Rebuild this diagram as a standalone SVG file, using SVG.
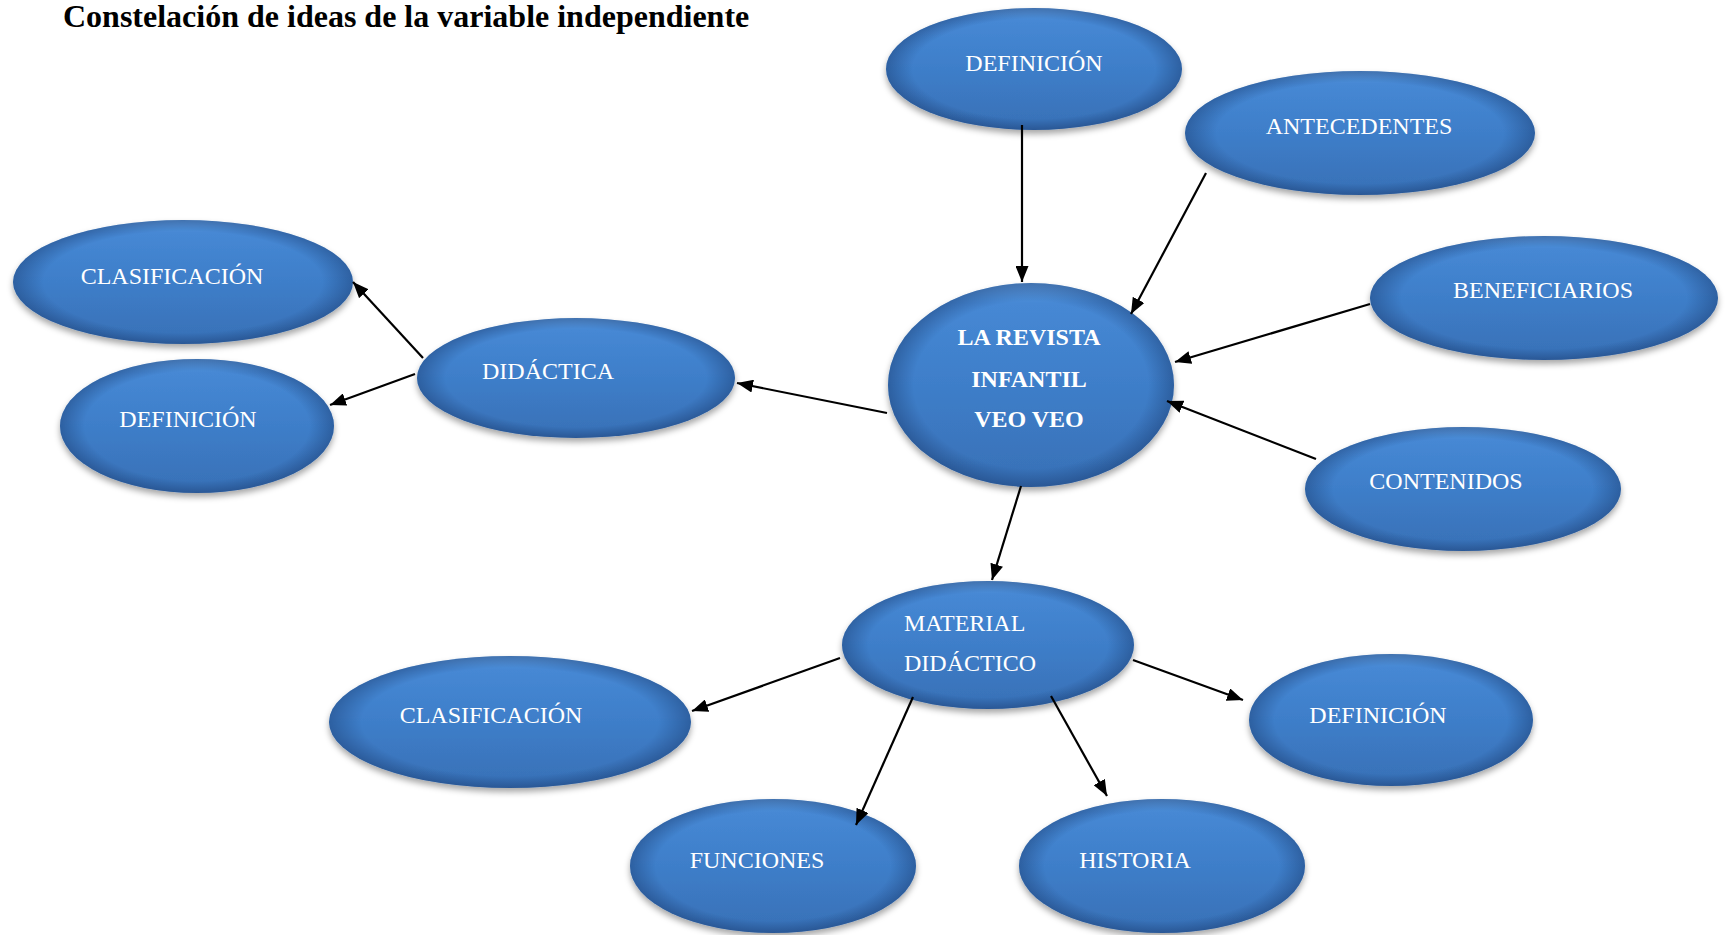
<svg xmlns="http://www.w3.org/2000/svg" width="1725" height="935" viewBox="0 0 1725 935">
<defs>
<linearGradient id="g" x1="0" y1="0" x2="0" y2="1">
<stop offset="0" stop-color="#5f9ce0"/>
<stop offset="0.1" stop-color="#4688d4"/>
<stop offset="0.5" stop-color="#3e7ec9"/>
<stop offset="1" stop-color="#3870b6"/>
</linearGradient>
<radialGradient id="edge" cx="0.5" cy="0.5" r="0.5">
<stop offset="0.82" stop-color="#143264" stop-opacity="0"/>
<stop offset="1" stop-color="#143264" stop-opacity="0.4"/>
</radialGradient>
<filter id="sh" x="-10%" y="-10%" width="120%" height="130%">
<feDropShadow dx="0" dy="4" stdDeviation="3" flood-color="#000" flood-opacity="0.35"/>
</filter>
<marker id="ah" viewBox="0 0 16 13" refX="16" refY="6.5" markerWidth="16" markerHeight="13" markerUnits="userSpaceOnUse" orient="auto">
<path d="M0,0 L16,6.5 L0,13 z" fill="#000"/>
</marker>
<style>
.n{fill:url(#g);filter:url(#sh)}
.e{fill:url(#edge)}
.t{font-family:"Liberation Serif","Times New Roman",serif;font-size:24px;fill:#fff;text-anchor:middle}
.b{font-weight:bold}
.s{text-anchor:start}
.c line{stroke:#000;stroke-width:2.2;marker-end:url(#ah)}
</style>
</defs>
<rect width="1725" height="935" fill="#fff"/>
<text x="63" y="27" font-family="'Liberation Serif','Times New Roman',serif" font-size="32" font-weight="bold" fill="#000">Constelación de ideas de la variable independiente</text>

<g id="n-definicion-top"><ellipse class="n" cx="1034" cy="69" rx="148" ry="61"/><ellipse class="e" cx="1034" cy="69" rx="148" ry="61"/><text class="t" x="1034" y="71">DEFINICIÓN</text></g>
<g id="n-antecedentes"><ellipse class="n" cx="1360" cy="133" rx="175" ry="62"/><ellipse class="e" cx="1360" cy="133" rx="175" ry="62"/><text class="t" x="1359" y="134">ANTECEDENTES</text></g>
<g id="n-beneficiarios"><ellipse class="n" cx="1544" cy="298" rx="174" ry="62"/><ellipse class="e" cx="1544" cy="298" rx="174" ry="62"/><text class="t" x="1543" y="298">BENEFICIARIOS</text></g>
<g id="n-contenidos"><ellipse class="n" cx="1463" cy="489" rx="158" ry="62"/><ellipse class="e" cx="1463" cy="489" rx="158" ry="62"/><text class="t" x="1446" y="489">CONTENIDOS</text></g>
<g id="n-revista"><ellipse class="n" cx="1031" cy="385" rx="143" ry="102"/><ellipse class="e" cx="1031" cy="385" rx="143" ry="102"/><text class="t b" x="1029" y="345">LA REVISTA</text><text class="t b" x="1029" y="387">INFANTIL</text><text class="t b" x="1029" y="427">VEO VEO</text></g>
<g id="n-didactica"><ellipse class="n" cx="576" cy="378" rx="159" ry="60"/><ellipse class="e" cx="576" cy="378" rx="159" ry="60"/><text class="t" x="548" y="379">DIDÁCTICA</text></g>
<g id="n-clasificacion-left"><ellipse class="n" cx="183" cy="282" rx="170" ry="62"/><ellipse class="e" cx="183" cy="282" rx="170" ry="62"/><text class="t" x="172" y="284">CLASIFICACIÓN</text></g>
<g id="n-definicion-left"><ellipse class="n" cx="197" cy="426" rx="137" ry="67"/><ellipse class="e" cx="197" cy="426" rx="137" ry="67"/><text class="t" x="188" y="427">DEFINICIÓN</text></g>
<g id="n-material"><ellipse class="n" cx="988" cy="645" rx="146" ry="64"/><ellipse class="e" cx="988" cy="645" rx="146" ry="64"/><text class="t s" x="904" y="631">MATERIAL</text><text class="t s" x="904" y="671">DIDÁCTICO</text></g>
<g id="n-clasificacion-bottom"><ellipse class="n" cx="510" cy="722" rx="181" ry="66"/><ellipse class="e" cx="510" cy="722" rx="181" ry="66"/><text class="t" x="491" y="723">CLASIFICACIÓN</text></g>
<g id="n-definicion-right"><ellipse class="n" cx="1391" cy="720" rx="142" ry="66"/><ellipse class="e" cx="1391" cy="720" rx="142" ry="66"/><text class="t" x="1378" y="723">DEFINICIÓN</text></g>
<g id="n-funciones"><ellipse class="n" cx="773" cy="866" rx="143" ry="67"/><ellipse class="e" cx="773" cy="866" rx="143" ry="67"/><text class="t" x="757" y="868">FUNCIONES</text></g>
<g id="n-historia"><ellipse class="n" cx="1162" cy="866" rx="143" ry="67"/><ellipse class="e" cx="1162" cy="866" rx="143" ry="67"/><text class="t" x="1135" y="868">HISTORIA</text></g>

<g id="connectors" class="c">
<line x1="1022" y1="125" x2="1022" y2="282"/>
<line x1="1206" y1="173" x2="1131" y2="314"/>
<line x1="1370" y1="304" x2="1175" y2="362"/>
<line x1="1316" y1="459" x2="1167" y2="401"/>
<line x1="887" y1="413" x2="737" y2="383"/>
<line x1="423" y1="358" x2="353" y2="282"/>
<line x1="415" y1="374" x2="330" y2="405"/>
<line x1="1021" y1="486" x2="992" y2="580"/>
<line x1="840" y1="658" x2="692" y2="711"/>
<line x1="1133" y1="660" x2="1243" y2="700"/>
<line x1="913" y1="697" x2="856" y2="825"/>
<line x1="1051" y1="696" x2="1107" y2="796"/>
</g>
</svg>
